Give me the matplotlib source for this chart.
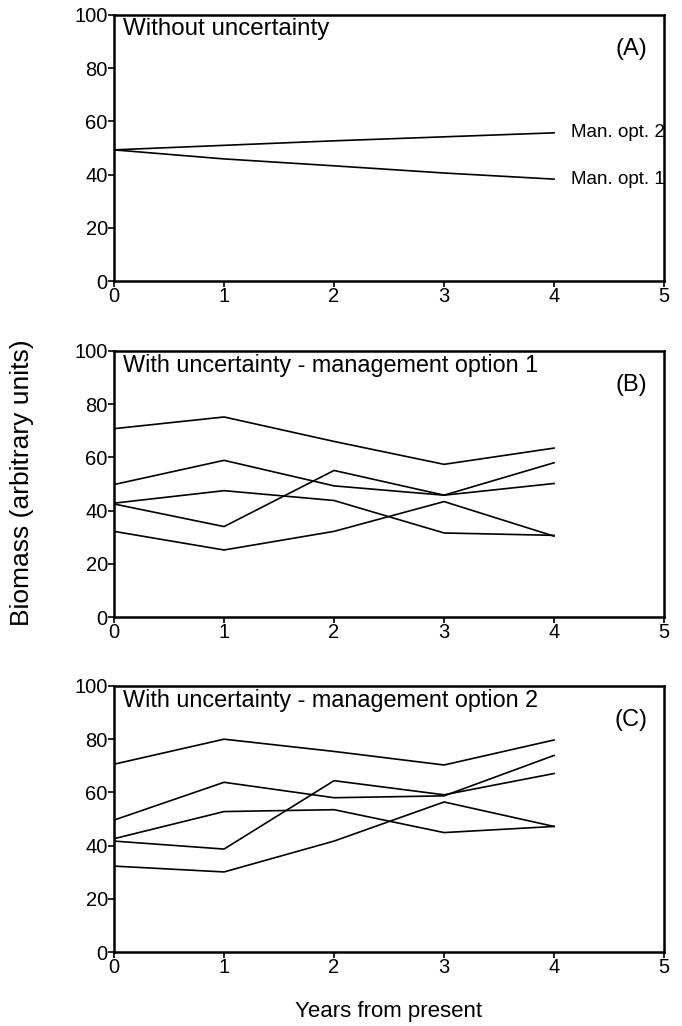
import matplotlib.pyplot as plt

years = [0, 1, 2, 3, 4]

# panel A - deterministic projections
opt1_det = [49.3, 45.9, 43.3, 40.6, 38.3]
opt2_det = [49.3, 51.0, 52.7, 54.2, 55.7]

# panel B - management option 1, five runs
b_run1 = [70.8, 75.2, 66.0, 57.4, 63.5]
b_run2 = [49.8, 58.9, 49.3, 45.8, 58.0]
b_run3 = [42.8, 47.5, 43.8, 31.6, 30.7]
b_run4 = [42.5, 34.0, 55.1, 45.8, 50.2]
b_run5 = [32.2, 25.2, 32.2, 43.4, 30.4]

# panel C - management option 2, five runs
c_run1 = [70.6, 80.0, 75.4, 70.3, 79.7]
c_run2 = [49.6, 63.8, 58.0, 58.7, 73.9]
c_run3 = [42.6, 52.8, 53.5, 44.9, 47.2]
c_run4 = [41.7, 38.7, 64.4, 59.1, 67.1]
c_run5 = [32.3, 30.1, 41.7, 56.4, 47.2]

plt.rcParams['font.family'] = ['Liberation Sans', 'DejaVu Sans']

fig = plt.figure(figsize=(6.82, 10.26), dpi=100)
left, width, height = 0.1672, 0.8065, 0.2593
ax_a = fig.add_axes([left, 0.7261, width, height])
ax_b = fig.add_axes([left, 0.3986, width, height])
ax_c = fig.add_axes([left, 0.0721, width, height])

lw = 1.2
ax_a.plot(years, opt2_det, color='black', lw=lw)
ax_a.plot(years, opt1_det, color='black', lw=lw)
ax_a.text(4.15, opt2_det[-1], 'Man. opt. 2', va='center', ha='left', fontsize=13.5)
ax_a.text(4.15, opt1_det[-1], 'Man. opt. 1', va='center', ha='left', fontsize=13.5)

for run in [b_run1, b_run2, b_run3, b_run4, b_run5]:
    ax_b.plot(years, run, color='black', lw=lw)
for run in [c_run1, c_run2, c_run3, c_run4, c_run5]:
    ax_c.plot(years, run, color='black', lw=lw)

titles = ['Without uncertainty',
          'With uncertainty - management option 1',
          'With uncertainty - management option 2']
title_sizes = [17.4, 16.8, 16.8]
tags = ['(A)', '(B)', '(C)']

for ax, t, fs, tag in zip([ax_a, ax_b, ax_c], titles, title_sizes, tags):
    ax.set_xlim(0, 5)
    ax.set_ylim(0, 100)
    ax.set_xticks([0, 1, 2, 3, 4, 5])
    ax.set_yticks([0, 20, 40, 60, 80, 100])
    for s in ['left', 'bottom', 'right', 'top']:
        ax.spines[s].set_linewidth(1.8)
    ax.tick_params(direction='out', length=4, width=1.2, labelsize=14.5, pad=0.5)
    ax.text(0.016, 0.99, t, transform=ax.transAxes, va='top', ha='left', fontsize=fs)
    ax.text(0.94, 0.872, tag, transform=ax.transAxes, va='center', ha='center', fontsize=17)

fig.text(0.032, 0.53, 'Biomass (arbitrary units)', rotation=90, va='center', ha='center',
         fontsize=19)
fig.text(0.57, 0.014, 'Years from present', va='center', ha='center', fontsize=16)

plt.savefig('out.png', dpi=100)
